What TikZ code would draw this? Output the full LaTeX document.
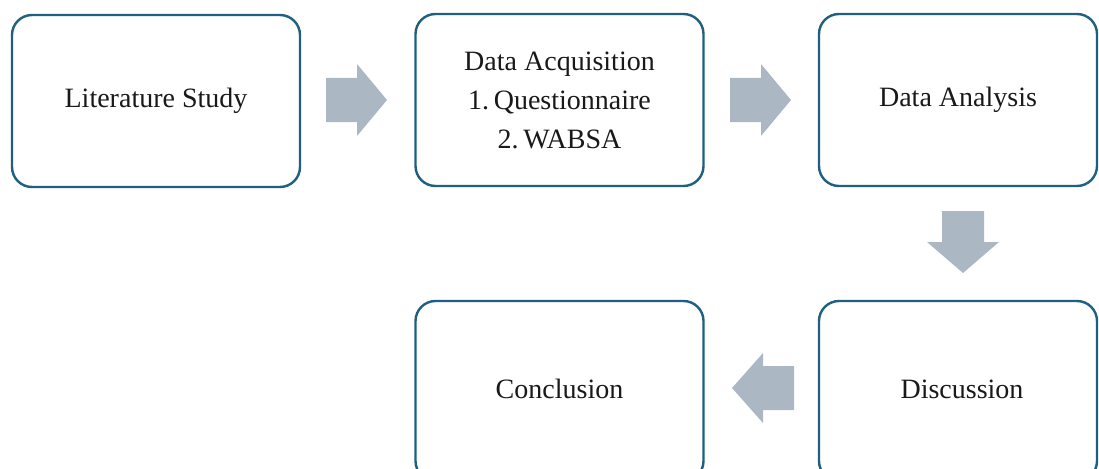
\documentclass[tikz,border=0pt]{standalone}
\usepackage{fontspec}
\setmainfont{Liberation Serif}
\definecolor{boxline}{HTML}{1F5F80}
\definecolor{arrowfill}{HTML}{ABB8C3}
\begin{document}
\begin{tikzpicture}[x=1pt,y=-1pt,
  stagefont/.style={font=\fontsize{28}{39}\selectfont, text=black!90},
  stage/.style={draw=boxline, line width=2.4pt, rounded corners=20pt, fill=white,
    minimum width=#1, minimum height=172pt, inner sep=0pt, align=center, stagefont},
  stage/.default=288pt,
  blockarrow/.style={fill=arrowfill, draw=none}]
\useasboundingbox (0,0) rectangle (1099,468);
\clip (0,0) rectangle (1099,468);

% process stages
\node[stage] (lit) at (156,101) {Literature Study};
\node[stage] (acq) at (559.5,100) {Data Acquisition\\1.\,Questionnaire\\2.\,WABSA};
\node[stage=278pt] (ana) at (958,100) {Data Analysis};
\node[stage=278pt, minimum height=180pt] (dis) at (958,391) {};
\node[stagefont] (dislabel) at (962,389) {Discussion};
\node[stage, minimum height=180pt] (con) at (559.5,391) {};
\node[stagefont] (conlabel) at (559.5,389) {Conclusion};

% block arrows between the stages
\fill[blockarrow] (326,78) -- (357,78) -- (357,64) -- (387,100) -- (357,136) -- (357,122) -- (326,122) -- cycle;
\fill[blockarrow] (730,78) -- (761,78) -- (761,64) -- (791,100) -- (761,136) -- (761,122) -- (730,122) -- cycle;
\fill[blockarrow] (942,211) -- (984,211) -- (984,242) -- (999,242) -- (963,273) -- (927,242) -- (942,242) -- cycle;
\fill[blockarrow] (794,366) -- (763,366) -- (763,353) -- (732,388) -- (763,423) -- (763,410) -- (794,410) -- cycle;
\end{tikzpicture}
\end{document}
